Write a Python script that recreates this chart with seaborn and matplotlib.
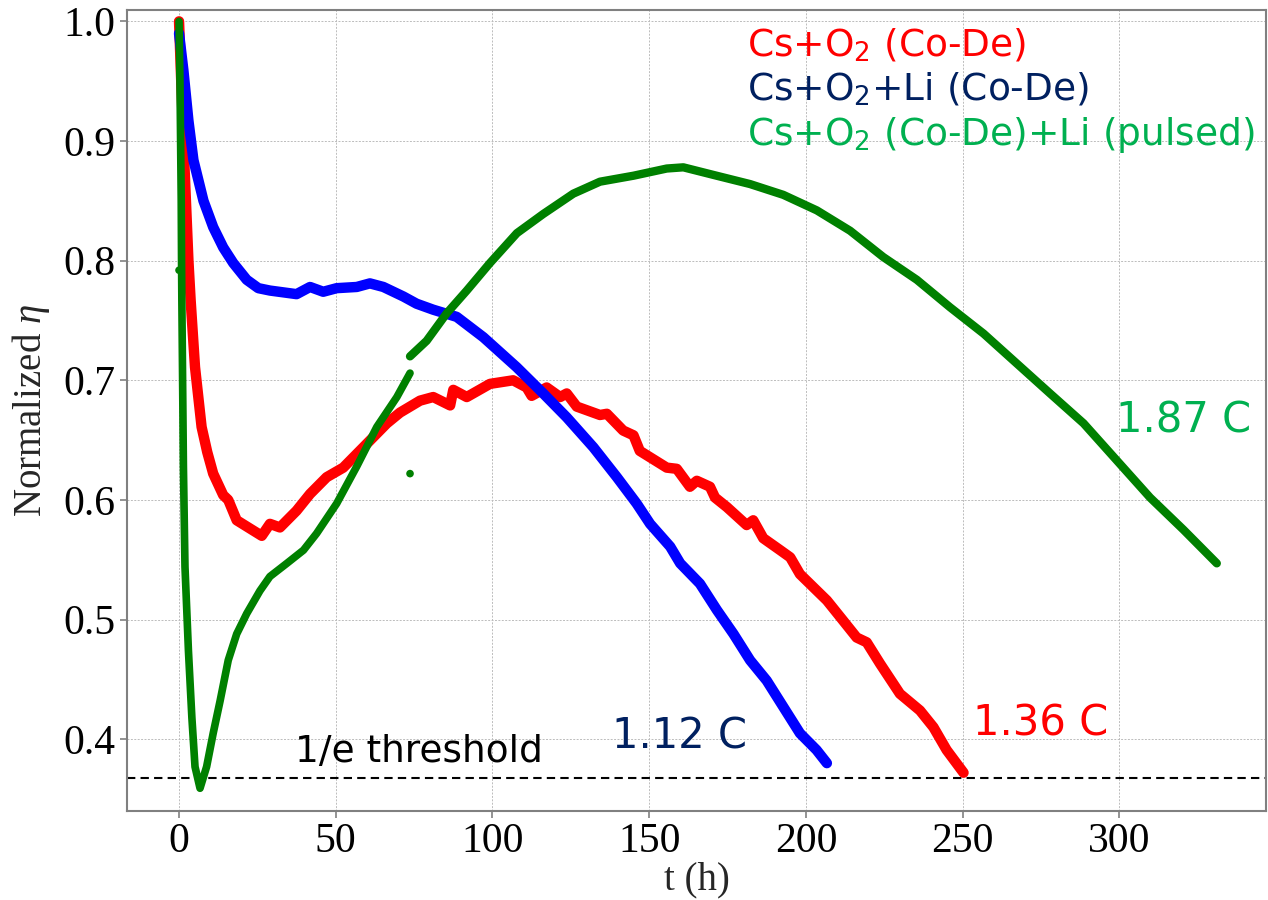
import matplotlib
matplotlib.use("Agg")
import matplotlib.pyplot as plt
import seaborn as sns
import numpy as np
import pandas as pd

# ---- data ----
red_t = [0, 0.7, 1.4, 2.2, 3.0, 3.7, 5.1, 7.2, 9.0, 10.9, 14.1, 15.7, 18.4, 22.7, 26.4, 29, 32.2,
         37.5, 41.8, 47.1, 52.4, 58.8, 66.3, 70.5, 76.9, 81.1, 86.5, 87.5, 91.8, 99.2, 106.6,
         110.9, 112.5, 117.3, 121.6, 123.7, 126.9, 134.3, 136.5, 141.7, 145, 147, 155.6, 158.8,
         163, 165.2, 169.4, 171, 174.8, 181.1, 183.2, 186.4, 191.8, 195, 198.1, 206.7, 211,
         216.2, 219.4, 223.7, 230, 236.4, 240.7, 244.9, 250.3]
red_eta = [1.0, 0.95, 0.90, 0.85, 0.80, 0.767, 0.711, 0.661, 0.64, 0.622, 0.604, 0.600, 0.583,
           0.576, 0.570, 0.580, 0.577, 0.591, 0.605, 0.619, 0.627, 0.644, 0.664, 0.673, 0.683,
           0.686, 0.679, 0.692, 0.686, 0.697, 0.700, 0.694, 0.687, 0.694, 0.686, 0.689, 0.678,
           0.671, 0.672, 0.658, 0.654, 0.641, 0.627, 0.626, 0.611, 0.616, 0.611, 0.602, 0.594,
           0.579, 0.583, 0.568, 0.558, 0.552, 0.538, 0.516, 0.502, 0.485, 0.481, 0.463, 0.438,
           0.424, 0.410, 0.391, 0.372]

blue_t = [0, 1.4, 3, 4.6, 7.8, 10.9, 14.1, 17.3, 21.6, 25.3, 29, 37.5, 41.8, 46, 50.3, 56.7,
          60.9, 65.2, 71.6, 75.8, 81.1, 88.6, 97.1, 107.7, 116.2, 123.7, 132.2, 139.7, 146,
          150.3, 156.7, 159.9, 166.2, 171.6, 176.9, 182.2, 187.5, 192.8, 198.1, 203.4, 206.7]
blue_eta = [0.99, 0.959, 0.917, 0.884, 0.850, 0.828, 0.811, 0.798, 0.784, 0.777, 0.775, 0.772,
            0.778, 0.774, 0.777, 0.778, 0.781, 0.778, 0.770, 0.764, 0.759, 0.753, 0.736, 0.711,
            0.689, 0.669, 0.644, 0.619, 0.597, 0.580, 0.561, 0.547, 0.530, 0.508, 0.488, 0.466,
            0.449, 0.427, 0.405, 0.391, 0.380]

green1_t = [0, 0.3, 0.5, 0.7, 0.8, 0.9, 1.4, 1.9, 3, 4.1, 5.1, 6.7, 8.8, 10.9, 13.1, 15.7, 18.4,
            21.6, 25.8, 29, 34.4, 39.7, 43.9, 50.3, 56.7, 63.1, 69.5, 73.7]
green1_eta = [1.0, 0.95, 0.90, 0.85, 0.80, 0.767, 0.628, 0.544, 0.474, 0.418, 0.377, 0.359,
              0.377, 0.405, 0.432, 0.466, 0.488, 0.505, 0.524, 0.536, 0.547, 0.558, 0.572,
              0.597, 0.628, 0.661, 0.686, 0.706]
green2_t = [73.7, 79, 85.4, 91.8, 99.2, 107.8, 116.2, 125.8, 134.3, 145, 155.6, 160.9, 171.5,
            182.2, 192.8, 203.5, 214.1, 224.7, 235.4, 246, 256.7, 267.3, 277.9, 288.6, 299.2,
            309.8, 320.5, 331.1]
green2_eta = [0.720, 0.733, 0.756, 0.775, 0.798, 0.823, 0.839, 0.856, 0.866, 0.871, 0.877, 0.878,
              0.871, 0.864, 0.855, 0.842, 0.825, 0.803, 0.784, 0.761, 0.739, 0.714, 0.689, 0.664,
              0.633, 0.602, 0.575, 0.547]
green_out_t = [73.7, 0.0]
green_out_eta = [0.622, 0.792]

threshold = 1 / np.e
legend_labels = ["Cs+O$_2$ (Co-De)", "Cs+O$_2$+Li (Co-De)", "Cs+O$_2$ (Co-De)+Li (pulsed)"]
legend_colors = ["#FF0000", "#002060", "#00B050"]
charge_labels = ["1.12 C", "1.36 C", "1.87 C"]

# ---- style ----
sns.set_theme(style="ticks")
plt.rcParams["font.family"] = ["Liberation Serif", "DejaVu Serif"]
plt.rcParams["mathtext.fontset"] = "custom"
plt.rcParams["mathtext.rm"] = "DejaVu Sans"
plt.rcParams["mathtext.it"] = "Liberation Serif:italic"

fig = plt.figure(figsize=(12.68, 9.0), dpi=100)
ax = fig.add_axes([127 / 1268, 1 - 811 / 900, (1266 - 127) / 1268, (811 - 10) / 900])

df_red = pd.DataFrame({"t": red_t, "eta": red_eta})
df_blue = pd.DataFrame({"t": blue_t, "eta": blue_eta})
df_g1 = pd.DataFrame({"t": green1_t, "eta": green1_eta})
df_g2 = pd.DataFrame({"t": green2_t, "eta": green2_eta})

kw = dict(x="t", y="eta", ax=ax, sort=False, estimator=None, legend=False,
          solid_capstyle="round", solid_joinstyle="round")
sns.lineplot(data=df_red, color="#FF0000", lw=7.5, **kw)
sns.lineplot(data=df_blue, color="#0000FF", lw=7.5, **kw)
sns.lineplot(data=df_g1, color="#008000", lw=5.5, **kw)
sns.lineplot(data=df_g2, color="#008000", lw=6.0, **kw)
sns.scatterplot(x=green_out_t, y=green_out_eta, color="#008000", s=30, edgecolor="none", ax=ax)

ax.axhline(threshold, color="black", lw=1.5, ls=(0, (4, 2.5)), zorder=1)

ax.set_xlim(-16.6, 346.8)
ax.set_ylim(0.340, 1.0095)
ax.set_xticks([0, 50, 100, 150, 200, 250, 300])
ax.set_yticks([0.4, 0.5, 0.6, 0.7, 0.8, 0.9, 1.0])
ax.set_yticklabels(["0.4", "0.5", "0.6", "0.7", "0.8", "0.9", "1.0"])
ax.grid(True, color="#bcbcbc", ls=(0, (2, 1.5)), lw=0.7)
ax.set_axisbelow(True)
for s in ax.spines.values():
    s.set_color("#808080")
    s.set_linewidth(1.5)
ax.tick_params(axis="both", labelsize=30, colors="#808080", labelcolor="black", length=5, width=1.2)

ax.set_xlabel("t (h)", fontsize=28, labelpad=0)
ax.set_ylabel("Normalized $\\eta$", fontsize=28, labelpad=8)

sans = ["DejaVu Sans"]
ys = [0.9426, 0.888, 0.831]
for lab, col, yy in zip(legend_labels, legend_colors, ys):
    ax.text(0.544, yy, lab, color=col, fontsize=27, family=sans, transform=ax.transAxes,
            ha="left", va="baseline")

ax.text(138.2, 0.392, charge_labels[0], color="#002060", fontsize=30, family=sans, va="baseline")
ax.text(253.3, 0.403, charge_labels[1], color="#FF0000", fontsize=30, family=sans, va="baseline")
ax.text(299.0, 0.656, charge_labels[2], color="#00B050", fontsize=30, family=sans, va="baseline")
ax.text(37.0, 0.381, "1/e threshold", color="black", fontsize=27, family=sans, va="baseline")

fig.savefig("out.png", dpi=100)
